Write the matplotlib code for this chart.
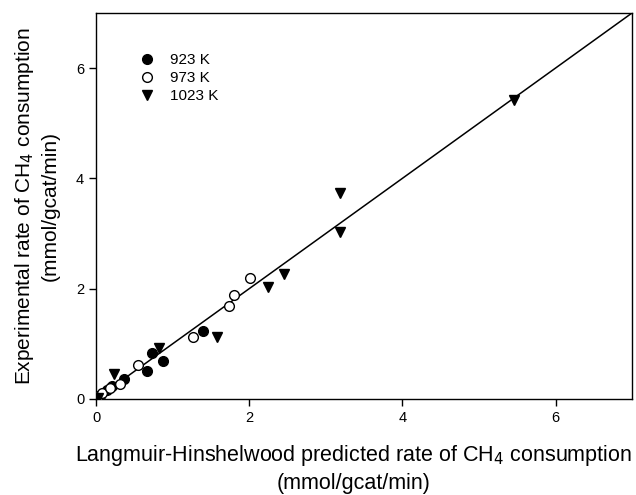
import matplotlib
matplotlib.use("Agg")
import matplotlib.pyplot as plt
import numpy as np

plt.rcParams['font.family'] = ['Liberation Sans', 'DejaVu Sans']

# 923 K (filled circles)
x_923 = [0.05, 0.14, 0.21, 0.37, 0.66, 0.73, 0.88, 1.40]
y_923 = [0.05, 0.16, 0.24, 0.36, 0.51, 0.83, 0.69, 1.23]
# 973 K (open circles)
x_973 = [0.03, 0.08, 0.18, 0.31, 0.55, 1.27, 1.73, 1.80, 2.01]
y_973 = [0.06, 0.11, 0.20, 0.28, 0.62, 1.12, 1.69, 1.89, 2.19]
# 1023 K (down triangles)
x_1023 = [0.03, 0.23, 0.82, 1.58, 2.24, 2.46, 3.18, 3.18, 5.46]
y_1023 = [0.02, 0.45, 0.92, 1.12, 2.03, 2.27, 3.03, 3.73, 5.42]

parity = [0, 7]
ticks = [0, 2, 4, 6]

fig = plt.figure(figsize=(6.36, 4.95), dpi=100)
ax = fig.add_axes([0.151, 0.194, 0.843, 0.780])

ax.plot(parity, parity, color='black', lw=1.1, zorder=1)
ax.plot(x_923, y_923, 'o', ms=7, mfc='black', mec='black', ls='none', label='923 K', zorder=3)
ax.plot(x_973, y_973, 'o', ms=7, mfc='white', mec='black', mew=1.0, ls='none', label='973 K', zorder=3)
ax.plot(x_1023, y_1023, 'v', ms=7.5, mfc='black', mec='black', ls='none', label='1023 K', zorder=3)

ax.set_xlim(0, 7)
ax.set_ylim(0, 7)
ax.set_xticks(ticks)
ax.set_yticks(ticks)
ax.tick_params(direction='out', length=5, width=1, labelsize=10.5, top=False, right=False)
for s in ax.spines.values():
    s.set_linewidth(1.0)

ax.set_xlabel('Langmuir-Hinshelwood predicted rate of CH$_4$ consumption\n(mmol/gcat/min)',
              fontsize=15.5, linespacing=1.3)
ax.xaxis.set_label_coords(0.48, -0.115, transform=ax.transAxes)
ax.xaxis.label.set_verticalalignment('top')
ax.set_ylabel('Experimental rate of CH$_4$ consumption\n(mmol/gcat/min)',
              fontsize=15, labelpad=12, linespacing=1.3)

leg = ax.legend(loc='upper left', bbox_to_anchor=(0.052, 0.915), frameon=False,
                fontsize=11, handletextpad=0.5, labelspacing=0.25, borderpad=0)

fig.savefig('out.png', dpi=100)
